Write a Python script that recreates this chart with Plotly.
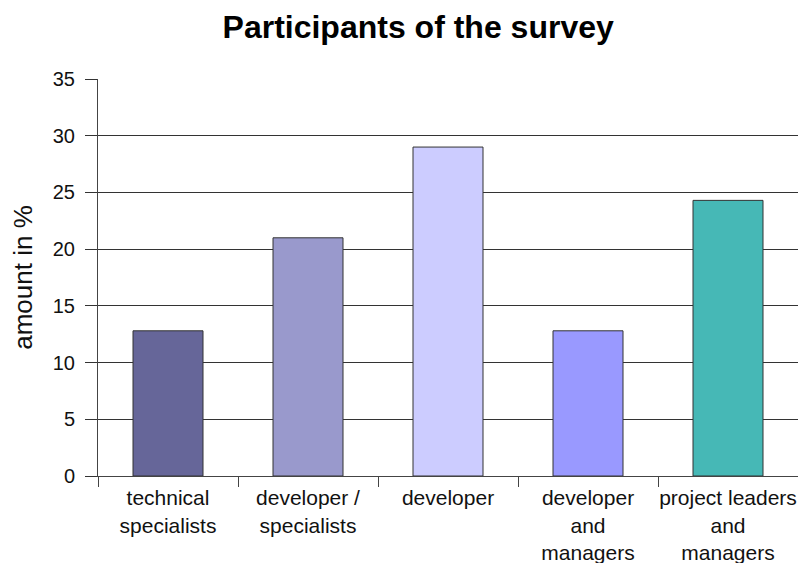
import plotly.graph_objects as go

categories = ["technical<br>specialists", "developer /<br>specialists", "developer",
              "developer<br>and<br>managers", "project leaders<br>and<br>managers"]
values = [12.8, 21.0, 29.0, 12.8, 24.3]
colors = ["#666699", "#9999CC", "#CCCCFF", "#9999FF", "#46B8B6"]
y_ticks = [0, 5, 10, 15, 20, 25, 30, 35]

font_family = "Liberation Sans, Arial, sans-serif"

fig = go.Figure(go.Bar(
    x=categories, y=values,
    marker=dict(color=colors, line=dict(color="#333333", width=1)),
    width=0.5,
))

fig.update_layout(
    width=798, height=563,
    margin=dict(l=98, r=0, t=79, b=87),
    paper_bgcolor="white", plot_bgcolor="white",
    font=dict(family=font_family, color="#111111"),
    title=dict(text="<b>Participants of the survey</b>", x=0.524, xref="container",
               xanchor="center", y=0.952, yanchor="middle",
               font=dict(size=32, family=font_family, color="#000000")),
    showlegend=False,
)
fig.update_xaxes(
    type="category", tickson="boundaries", ticks="outside", ticklen=10,
    tickcolor="#444444", tickwidth=1, tickangle=0, automargin=False,
    showline=True, linecolor="#444444", linewidth=1,
    tickfont=dict(size=21, family=font_family, color="#111111"),
    ticklabelstandoff=3,
    showgrid=False,
)
fig.update_yaxes(
    range=[0, 35], tickvals=y_ticks, ticks="outside", ticklen=12, automargin=False,
    tickcolor="#333333", showline=True, linecolor="#444444", linewidth=1,
    showgrid=True, gridcolor="#333333", gridwidth=1,
    tickfont=dict(size=20, family=font_family, color="#111111"),
    ticklabelstandoff=6,
    title=dict(text="amount in %", font=dict(size=26, family=font_family, color="#111111"),
               standoff=12),
    zeroline=False,
)

fig.write_html("out.html")
